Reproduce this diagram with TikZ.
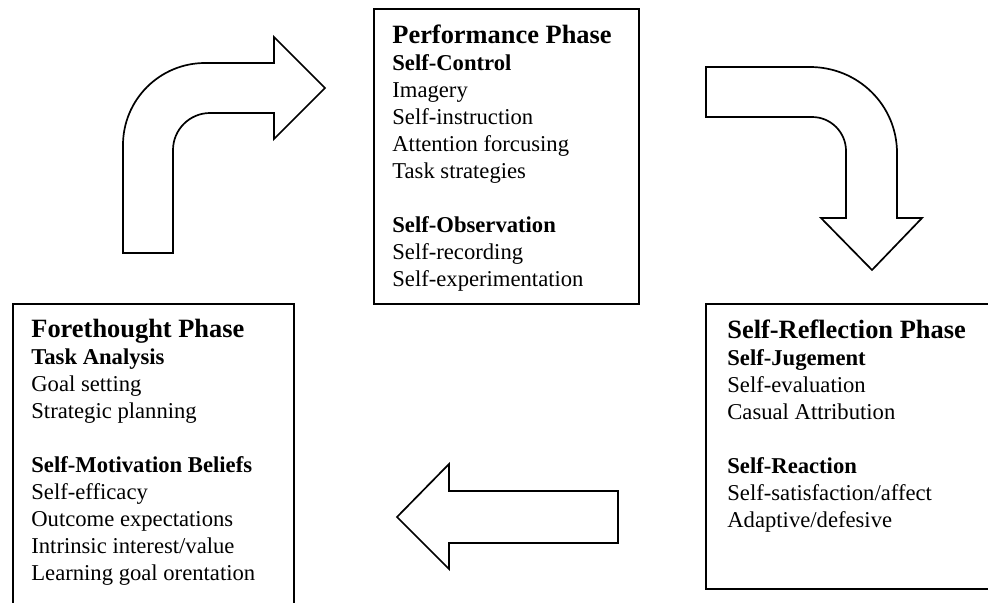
\documentclass[tikz,border=0pt]{standalone}
\usepackage{fontspec}
\setmainfont{Liberation Serif}
\usepackage{tikz}

\newcommand{\phasetitle}[1]{{\fontsize{14}{14.3}\selectfont\bfseries #1}}

\begin{document}
\begin{tikzpicture}[x=0.53pt,y=-0.53pt]
					\tikzstyle{BOX} = [draw=black, line width=1pt, fill=white, inner sep=0pt, anchor=north west]
					\tikzstyle{LINES} = [inner sep=0pt, anchor=north west, align=left, font=\fontsize{12}{14.3}\selectfont]
					\tikzstyle{BENT} = [draw=black, line width=0.9pt, fill=white, line join=miter]
					
					\useasboundingbox (0,0) rectangle (988,602);
					\clip (0,0) rectangle (988,602);
					
					\node[BOX, minimum width=140.45pt, minimum height=156.35pt] (PERF) at (373,8) {};
					\node[LINES] (PERFTXT) at (392,25) {\phasetitle{Performance Phase}\\
						\textbf{Self-Control}\\ Imagery\\ Self-instruction\\ Attention forcusing\\ Task strategies\\[14.3pt]
						\textbf{Self-Observation}\\ Self-recording\\ Self-experimentation};
					
					\node[BOX, minimum width=148.93pt, minimum height=175pt] (FORE) at (12,303) {};
					\node[LINES] (FORETXT) at (31,319) {\phasetitle{Forethought Phase}\\
						\textbf{Task Analysis}\\ Goal setting\\ Strategic planning\\[14.3pt]
						\textbf{Self-Motivation Beliefs}\\ Self-efficacy\\ Outcome expectations\\ Intrinsic interest/value\\ Learning goal orentation};
					
					\node[BOX, minimum width=159pt, minimum height=151.05pt] (REFL) at (705,303) {};
					\node[LINES] (REFLTXT) at (727,320) {\phasetitle{Self-Reflection Phase}\\
						\textbf{Self-Jugement}\\ Self-evaluation\\ Casual Attribution\\[14.3pt]
						\textbf{Self-Reaction}\\ Self-satisfaction/affect\\ Adaptive/defesive};
					
					% forethought -> performance
					\draw[BENT] (123,253) -- (123,145) .. controls (123,99.7) and (159.7,63) .. (205,63) -- (274,63) -- (274,37) -- (325,88) -- (274,139) -- (274,113) -- (210,113) .. controls (189.6,113) and (173,129.6) .. (173,150) -- (173,253) -- cycle;
					% performance -> self-reflection
					\draw[BENT] (706,67) -- (810,67) .. controls (858,67) and (897,105) .. (897,153) -- (897,218) -- (922,218) -- (872,270) -- (821,218) -- (846,218) -- (846,151) .. controls (846,132.2) and (830.8,117) .. (812,117) -- (706,117) -- cycle;
					% self-reflection -> forethought
					\draw[BENT] (618,491) -- (449,491) -- (449,464) -- (397,517) -- (449,569) -- (449,543) -- (618,543) -- cycle;
\end{tikzpicture}
\end{document}
